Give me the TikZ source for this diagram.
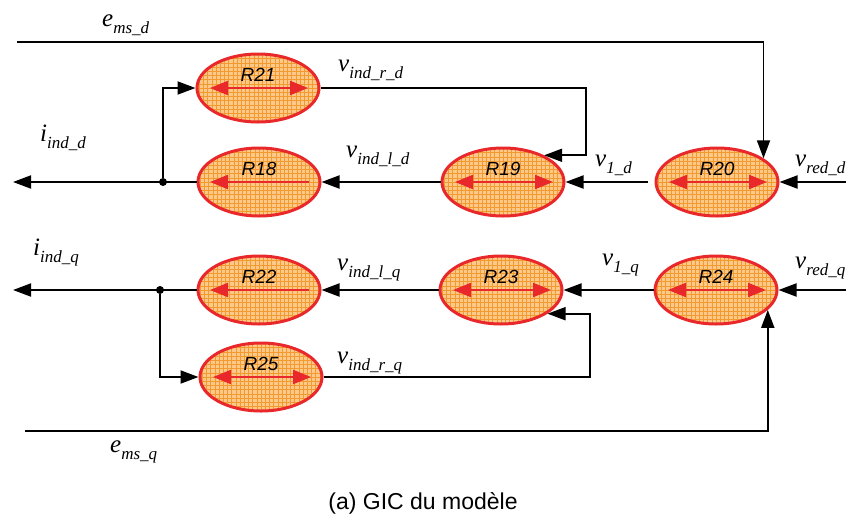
\documentclass[tikz,border=0pt]{standalone}
\usepackage{fontspec}
\setmainfont{Liberation Serif}
\newfontfamily\arialf{Liberation Sans}
\usetikzlibrary{shapes.geometric,arrows.meta}
\definecolor{redc}{HTML}{E8282A}
\definecolor{fillc}{HTML}{FDC98A}
\definecolor{gridc}{HTML}{F39A2E}
\newcommand\glab[2]{{\fontsize{25}{25}\selectfont\itshape #1}{\fontsize{17}{17}\selectfont\itshape\raisebox{-7pt}{#2}}}
\tikzset{
  blk/.style={ellipse, draw=redc, line width=3pt, fill=fillc,
    minimum width=122pt, minimum height=68pt, inner sep=0pt,
    path picture={\draw[gridc, line width=0.55pt, step=4.2pt]
      (path picture bounding box.south west) grid (path picture bounding box.north east);}},
  conn/.style={draw=black, line width=1.9pt, -{Triangle[length=18pt,width=13pt]}},
  redarr/.style={draw=redc, line width=2.2pt},
  rlab/.style={font=\arialf\itshape\fontsize{19}{19}\selectfont, inner sep=0pt},
  glabel/.style={anchor=base west, inner sep=0pt},
  dot/.style={circle, fill=black, inner sep=0pt, minimum size=8pt},
}
\begin{document}
\begin{tikzpicture}[x=1pt,y=-1pt]
\useasboundingbox (0,0) rectangle (846,517);
% blocks
\node[blk] (R21) at (258,88) {};
\node[blk] (R18) at (259,182) {};
\node[blk] (R19) at (503,182) {};
\node[blk] (R20) at (717,182) {};
\node[blk] (R22) at (259,290) {};
\node[blk] (R23) at (501,290) {};
\node[blk] (R24) at (716,290) {};
\node[blk] (R25) at (261,377) {};
% block labels
\foreach \n in {R21,R18,R19,R20,R22,R23,R24,R25}{
  \node[rlab] at ([yshift=13pt]\n.center) {\n};
}
% red inner arrows
\foreach \n in {R21,R19,R20,R23,R24,R25}{
  \draw[redarr, {Triangle[length=18pt,width=14pt]}-{Triangle[length=18pt,width=14pt]}]
    ([xshift=-48pt]\n.center) -- ([xshift=50pt]\n.center);
}
\foreach \n in {R18,R22}{
  \draw[redarr, -{Triangle[length=18pt,width=14pt]}]
    ([xshift=50pt]\n.center) -- ([xshift=-49pt]\n.center);
}
% coordinates
\coordinate (emsd) at (17,42);
\coordinate (r21turn) at (586,88);
\coordinate (idout) at (13,182);
\coordinate (v1d) at (648,182);
\coordinate (vredd) at (846,182);
\coordinate (iqout) at (13,290);
\coordinate (vredq) at (846,290);
\coordinate (r25turn) at (590,377);
\coordinate (emsq) at (25,431);
\node[dot] (jd) at (163,182) {};
\node[dot] (jq) at (160,290) {};
% d connectors
\draw[conn] (emsd) -| (R20.27);
\draw[conn] (R21.east) -- (r21turn) |- (R19.33);
\draw[conn] (R19.west) -- (R18.east);
\draw[conn] (R18.west) -- (idout);
\draw[conn] (jd) |- (R21.west);
\draw[conn] (v1d) -- (R19.east);
\draw[conn] (vredd) -- (R20.east);
% q connectors
\draw[conn] (R23.west) -- (R22.east);
\draw[conn] (R24.west) -- (R23.east);
\draw[conn] (vredq) -- (R24.east);
\draw[conn] (R22.west) -- (iqout);
\draw[conn] (jq) |- (R25.west);
\draw[conn] (R25.east) -- (r25turn) |- (R23.-27);
\draw[conn] (emsq) -| (R24.-21);
% signal labels
\node[glabel] at (102,26) {\glab{e}{ms\_d}};
\node[glabel] at (40,141) {\glab{i}{ind\_d}};
\node[glabel] at (338,71) {\glab{v}{ind\_r\_d}};
\node[glabel] at (346,157) {\glab{v}{ind\_l\_d}};
\node[glabel] at (595,166) {\glab{v}{1\_d}};
\node[glabel] at (795,166) {\glab{v}{red\_d}};
\node[glabel] at (33,255) {\glab{i}{ind\_q}};
\node[glabel] at (337,270) {\glab{v}{ind\_l\_q}};
\node[glabel] at (602,265) {\glab{v}{1\_q}};
\node[glabel] at (795,268) {\glab{v}{red\_q}};
\node[glabel] at (337,363) {\glab{v}{ind\_r\_q}};
\node[glabel] at (110,452) {\glab{e}{ms\_q}};
% caption
\node[font=\arialf\fontsize{23}{23}\selectfont, inner sep=0pt, anchor=base] (cap) at (423,509) {(a) GIC du modèle};
\end{tikzpicture}
\end{document}
